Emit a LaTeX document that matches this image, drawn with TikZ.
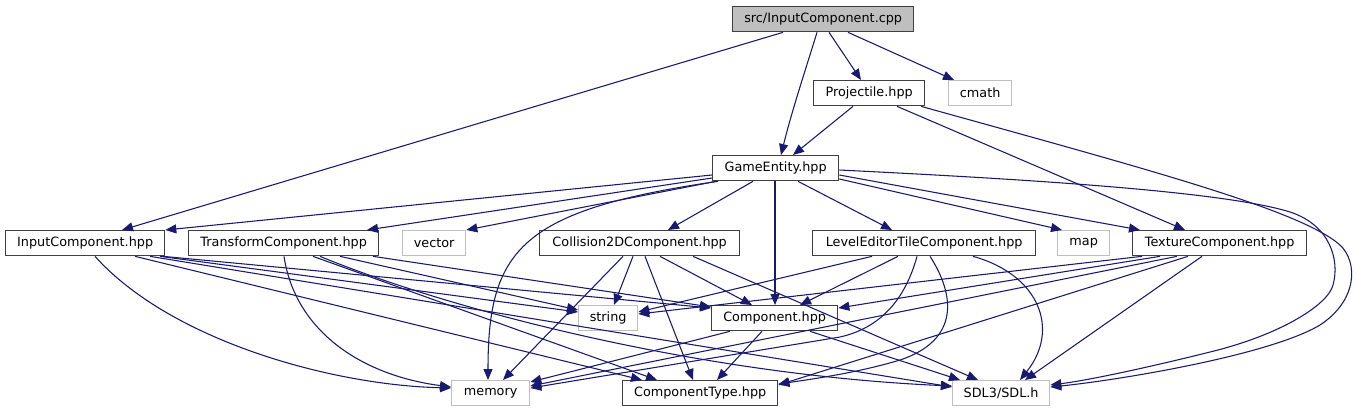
\documentclass[tikz,border=0pt]{standalone}
\usepackage{fontspec}
\setmainfont{DejaVu Sans}
\usetikzlibrary{calc,arrows.meta}
\definecolor{edgecol}{HTML}{191970}
\definecolor{bordcol}{HTML}{404040}
\definecolor{lightbord}{HTML}{BFBFBF}
\definecolor{rootfill}{HTML}{BFBFBF}
\begin{document}
\begin{tikzpicture}[x=0.75pt,y=-0.75pt,
  box/.style={draw=bordcol, line width=1pt, fill=white, minimum height=18.75pt,
    inner sep=0pt, anchor=north west, font=\fontsize{9.6}{11}\selectfont},
  ext/.style={box, draw=lightbord},
  dep/.style={draw=edgecol, line width=0.8pt, -{Triangle[length=8.25pt,width=6.75pt]}},
]
\fill[white] (0,0) rectangle (1356,411);
\useasboundingbox (0,0) rectangle (1356,411);

% nodes
\node[box, fill=rootfill, minimum width=135.75pt] (cpp) at (732,6) {src/InputComponent.cpp};
\node[box, minimum width=83.25pt] (proj) at (813,80) {Projectile.hpp};
\node[ext, minimum width=47.25pt] (cmath) at (948,80) {cmath};
\node[box, minimum width=94.5pt] (ge) at (712,155) {GameEntity.hpp};
\node[box, minimum width=119.25pt] (inp) at (5,230) {InputComponent.hpp};
\node[box, minimum width=142.5pt] (tr) at (188,230) {TransformComponent.hpp};
\node[ext, minimum width=47.25pt] (vec) at (402,230) {vector};
\node[box, minimum width=150pt] (col) at (539,230) {Collision2DComponent.hpp};
\node[box, minimum width=167.25pt] (lvl) at (812,230) {LevelEditorTileComponent.hpp};
\node[ext, minimum width=39pt] (map) at (1057,230) {map};
\node[box, minimum width=130.5pt] (tex) at (1132,230) {TextureComponent.hpp};
\node[ext, minimum width=44.25pt] (str) at (578,305) {string};
\node[box, minimum width=94.5pt] (comp) at (711,305) {Component.hpp};
\node[ext, minimum width=58.5pt] (mem) at (451,380) {memory};
\node[box, minimum width=116.25pt] (ctype) at (622,380) {ComponentType.hpp};
\node[ext, minimum width=72.75pt] (sdl) at (952,380) {SDL3/SDL.h};

% src/InputComponent.cpp
\draw[dep] ($(cpp.south west)+(51,0)$) -- ($(inp.north west)+(117,0)$);
\draw[dep] ($(cpp.south west)+(85,0)$) .. controls (808,62) and (792,110) .. ($(ge.north west)+(69,0)$);
\draw[dep] ($(cpp.south west)+(97,0)$) -- ($(proj.north west)+(48,0)$);
\draw[dep] ($(cpp.south west)+(116,0)$) -- ($(cmath.north west)+(6,0)$);

% Projectile.hpp
\draw[dep] ($(proj.south west)+(40,0)$) -- ($(ge.north west)+(81,0)$);
\draw[dep] ($(proj.south west)+(84,0)$) -- ($(tex.north west)+(53,0)$);
\draw[dep] ($(proj.south west)+(108,0)$) .. controls (1150,170) and (1300,210) .. (1340,245)
  .. controls (1358,262) and (1358,300) .. (1320,325)
  .. controls (1270,355) and (1120,380) .. ($(sdl.north east)+(0,7)$);

% GameEntity.hpp
\draw[dep] ($(ge.north east)+(0,15)$) .. controls (1000,178) and (1220,190) .. (1290,212)
  .. controls (1330,225) and (1340,260) .. (1333,285)
  .. controls (1328,305) and (1280,335) .. (1210,352)
  .. controls (1150,367) and (1090,380) .. ($(sdl.north east)+(0,5)$);
\draw[dep] ($(ge.north west)+(0,20)$) -- (inp.north east);
\draw[dep] ($(ge.north west)+(0,23)$) -- ($(tr.north west)+(179,0)$);
\draw[dep] ($(ge.south west)+(4,0)$) -- (vec.north east);
\draw[dep] ($(ge.south west)+(6,0)$) .. controls (520,210) and (488,250) .. ($(mem.north west)+(37,0)$);
\draw[dep] ($(ge.south west)+(41,0)$) -- ($(col.north west)+(129,0)$);
\draw[dep] ($(ge.south west)+(63,0)$) -- ($(comp.north west)+(64,0)$);
\draw[dep] ($(ge.south west)+(86,0)$) -- ($(lvl.north west)+(80,0)$);
\draw[dep] ($(ge.north east)+(0,24)$) -- ($(map.north west)+(5,0)$);
\draw[dep] ($(ge.north east)+(0,20)$) -- ($(tex.north west)+(8,0)$);

% InputComponent.hpp
\draw[dep] ($(inp.south west)+(90,0)$) .. controls (170,340) and (330,385) .. ($(mem.north west)+(0,8)$);
\draw[dep] ($(inp.south west)+(130,0)$) -- ($(ctype.north west)+(20,0)$);
\draw[dep] ($(inp.south west)+(145,0)$) -- ($(sdl.north west)+(0,7)$);
\draw[dep] ($(inp.south west)+(155,0)$) -- ($(str.north west)+(0,7)$);
\draw[dep] ($(inp.south west)+(158,0)$) -- ($(comp.north west)+(0,3)$);

% TransformComponent.hpp
\draw[dep] ($(tr.south west)+(96,0)$) .. controls (295,330) and (360,375) .. ($(mem.north west)+(0,7)$);
\draw[dep] ($(tr.south west)+(125,0)$) -- ($(ctype.north west)+(35,0)$);
\draw[dep] ($(tr.south west)+(132,0)$) .. controls (450,310) and (700,375) .. ($(sdl.north west)+(0,6)$);
\draw[dep] ($(tr.south west)+(152,0)$) -- ($(str.north west)+(0,5)$);
\draw[dep] ($(tr.south west)+(185,0)$) -- ($(comp.north west)+(0,2)$);

% Collision2DComponent.hpp
\draw[dep] ($(col.south west)+(84,0)$) -- ($(mem.north west)+(52,0)$);
\draw[dep] ($(col.south west)+(94,0)$) -- ($(str.north west)+(36,0)$);
\draw[dep] ($(col.south west)+(106,0)$) -- ($(ctype.north west)+(71,0)$);
\draw[dep] ($(col.south west)+(121,0)$) -- ($(comp.north west)+(41,0)$);
\draw[dep] ($(col.south west)+(154,0)$) -- ($(sdl.north west)+(26,0)$);

% Component.hpp
\draw[dep] ($(comp.south west)+(19,0)$) -- ($(mem.north east)+(0,2)$);
\draw[dep] ($(comp.south west)+(51,0)$) -- ($(ctype.north west)+(95,0)$);
\draw[dep] ($(comp.south west)+(99,0)$) -- ($(sdl.north west)+(8,0)$);

% LevelEditorTileComponent.hpp
\draw[dep] ($(lvl.south west)+(60,0)$) -- ($(str.north east)+(0,7)$);
\draw[dep] ($(lvl.south west)+(86,0)$) -- ($(comp.north west)+(89,0)$);
\draw[dep] ($(lvl.south west)+(105,0)$) .. controls (905,300) and (880,328) .. (840,337)
  -- ($(mem.north east)+(0,8)$);
\draw[dep] ($(lvl.south west)+(118,0)$) .. controls (955,295) and (960,340) .. (900,360)
  .. controls (860,372) and (820,378) .. ($(ctype.north east)+(0,4)$);
\draw[dep] ($(lvl.south west)+(161,0)$) .. controls (1040,275) and (1060,330) .. ($(sdl.north west)+(68,0)$);

% TextureComponent.hpp
\draw[dep] ($(tex.south west)+(10,0)$) -- ($(str.north east)+(0,9)$);
\draw[dep] ($(tex.south west)+(28,0)$) -- ($(comp.north east)+(0,3)$);
\draw[dep] ($(tex.south west)+(45,0)$) -- ($(mem.north east)+(0,6)$);
\draw[dep] ($(tex.south west)+(56,0)$) -- ($(ctype.north east)+(0,5)$);
\draw[dep] ($(tex.south west)+(70,0)$) -- ($(sdl.north west)+(73,0)$);
\end{tikzpicture}
\end{document}
